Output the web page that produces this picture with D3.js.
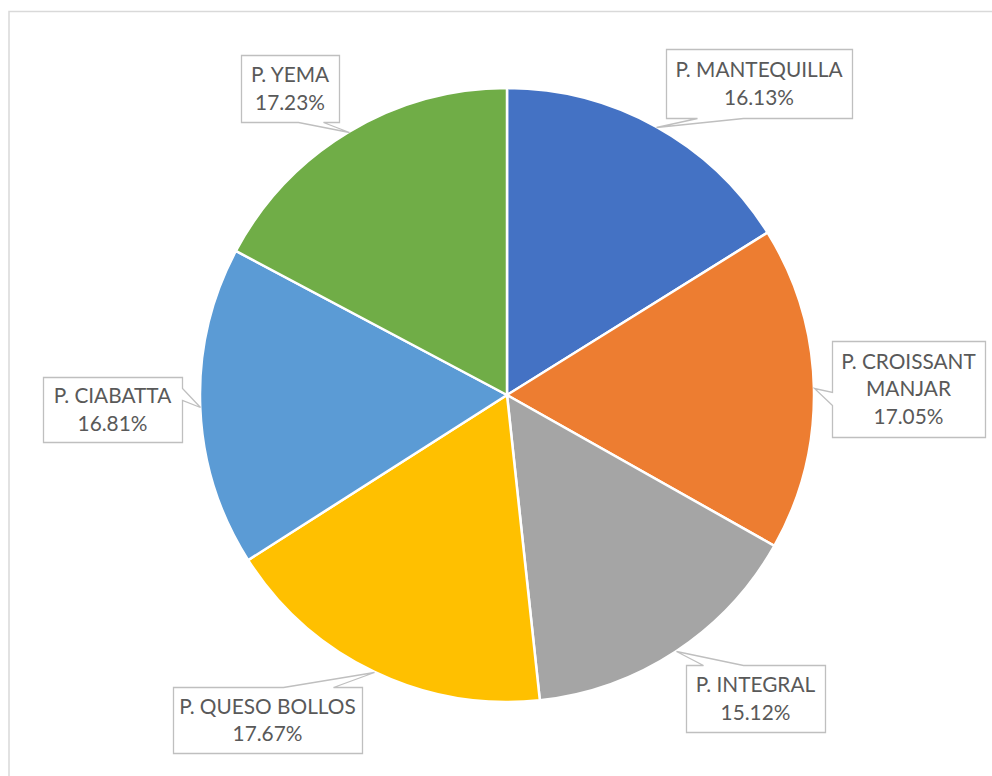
<!DOCTYPE html>
<html>
<head>
<meta charset="utf-8">
<script src="https://cdn.jsdelivr.net/npm/d3@7"></script>
<style>
    body { margin: 0; background: #fff; }
    #chart text { font-family: Lato, "Open Sans", sans-serif; fill: #595959; }
</style>
</head>
<body>
<div id="chart"></div>
<script>
// data
var categories = ["P. MANTEQUILLA", "P. CROISSANT MANJAR", "P. INTEGRAL", "P. QUESO BOLLOS", "P. CIABATTA", "P. YEMA"];
var values = [16.13, 17.05, 15.12, 17.67, 16.81, 17.23];
var labelLines = [["P. MANTEQUILLA"], ["P. CROISSANT", "MANJAR"], ["P. INTEGRAL"], ["P. QUESO BOLLOS"], ["P. CIABATTA"], ["P. YEMA"]];
var colors = ["#4472C4", "#ED7D31", "#A5A5A5", "#FFC000", "#5B9BD5", "#70AD47"];

var w = 992;
var h = 776;
var cx = 507, cy = 395, r = 307;

// callout boxes: x, y, w, h, side the pointer leaves from, base range on that side
var boxes = [
    { x: 666, y: 49, w: 186, h: 69, side: "bottom", b0: 697, b1: 743 },
    { x: 832, y: 341, w: 153, h: 96, side: "left", b0: 392, b1: 405 },
    { x: 686, y: 665, w: 139, h: 67, side: "top", b0: 703, b1: 743 },
    { x: 173, y: 687, w: 189, h: 66, side: "top", b0: 283, b1: 333 },
    { x: 43, y: 377, w: 139, h: 65, side: "right", b0: 388, b1: 400 },
    { x: 241, y: 55, w: 98, h: 67, side: "bottom", b0: 298, b1: 323 }
];

var svg = d3.select("#chart")
    .append("svg")
    .attr("width", w)
    .attr("height", h);

// chart area border
svg.append("rect")
    .attr("x", 9)
    .attr("y", 11.5)
    .attr("width", w + 10)
    .attr("height", h + 10)
    .attr("fill", "none")
    .attr("stroke", "#d9d9d9")
    .attr("stroke-width", 1.5);

var pie = d3.pie().sort(null).value(function (d) { return d; });
var arcs = pie(values);
var arc = d3.arc().innerRadius(0).outerRadius(r);

var g = svg.append("g").attr("transform", "translate(" + cx + "," + cy + ")");

g.selectAll("path")
    .data(arcs)
    .enter()
    .append("path")
    .attr("d", arc)
    .attr("fill", function (d, i) { return colors[i]; })
    .attr("stroke", "#fff")
    .attr("stroke-width", 2.5)
    .attr("stroke-linejoin", "round");

// callouts
arcs.forEach(function (d, i) {
    var b = boxes[i];
    var a = (d.startAngle + d.endAngle) / 2;
    var tx = cx + r * Math.sin(a);
    var ty = cy - r * Math.cos(a);

    // box outline with pointer, built clockwise
    var x0 = b.x, y0 = b.y, x1 = b.x + b.w, y1 = b.y + b.h;
    var pts;
    if (b.side == "bottom") {
        pts = [[x0, y0], [x1, y0], [x1, y1], [b.b1, y1], [tx, ty], [b.b0, y1], [x0, y1]];
    } else if (b.side == "top") {
        pts = [[x0, y0], [b.b0, y0], [tx, ty], [b.b1, y0], [x1, y0], [x1, y1], [x0, y1]];
    } else if (b.side == "left") {
        pts = [[x0, y0], [x1, y0], [x1, y1], [x0, y1], [x0, b.b1], [tx, ty], [x0, b.b0]];
    } else {
        pts = [[x0, y0], [x1, y0], [x1, b.b0], [tx, ty], [x1, b.b1], [x1, y1], [x0, y1]];
    }
    svg.append("path")
        .attr("d", "M" + pts.map(function (p) { return (Math.round(p[0]) + 0.5) + "," + (Math.round(p[1]) + 0.5); }).join("L") + "Z")
        .attr("fill", "#fff")
        .attr("stroke", "#bfbfbf")
        .attr("stroke-width", 1.3);

    var lines = labelLines[i].concat([d3.format(".2f")(values[i]) + "%"]);
    var lh = 27.5;
    var mid = b.y + b.h / 2;
    var first = mid - (lines.length - 1) * lh / 2;
    var t = svg.append("text")
        .attr("text-anchor", "middle")
        .attr("font-size", "20.8px");
    lines.forEach(function (s, k) {
        t.append("tspan")
            .attr("x", b.x + b.w / 2)
            .attr("y", first + k * lh)
            .attr("dy", "0.36em")
            .text(s);
    });
});
</script>
</body>
</html>
